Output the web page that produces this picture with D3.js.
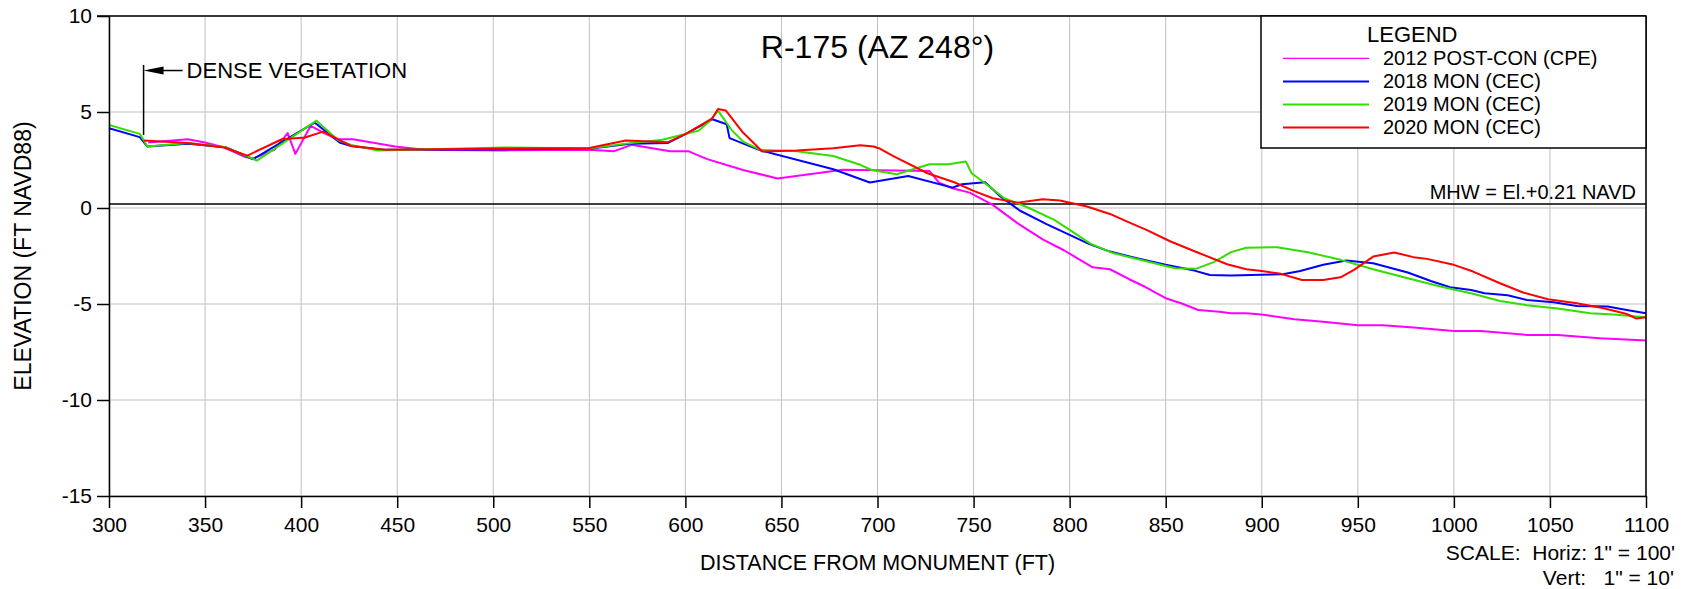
<!DOCTYPE html>
<html lang="en-US">
<head>
    <title>R-175 Profile</title>
    <meta charset="utf-8">
    <style>
        html,
        body {
            margin: 0;
            padding: 0;
            background: #fff;
        }
        /* everything in the drawing uses the same sans face */

        svg text {
            font-family: "Liberation Sans", Arial, sans-serif;
            fill: #000;
        }

        .grid line {
            stroke: #c0c0c0;
            stroke-width: 1px;
        }

        .axis path,
        .axis line {
            stroke: #000;
            stroke-width: 1.5px;
        }

        .axis text {
            font-size: 21px;
        }

        .profile {
            fill: none;
            stroke-width: 2px;
            stroke-linejoin: round;
        }
    </style>
    <script src="https://d3js.org/d3.v7.min.js"></script>
</head>

<body>
    <div id="chart"></div>

    <script>
        // survey profiles, [distance from monument (ft), elevation (ft NAVD88)]
        var post2012 = [
            [320.4, 3.41], [341, 3.58], [350, 3.41], [360, 3.15], [371, 2.65], [375, 2.58], [386, 3.03],
            [393, 3.9], [397, 2.82], [405, 4.28], [412, 3.9], [419, 3.58], [427, 3.58], [449, 3.2],
            [464, 3.03], [506, 3.0], [550, 3.04], [563, 2.96], [572, 3.29], [592, 2.96], [601.5, 2.96],
            [611, 2.56], [630, 1.98], [648, 1.54], [682, 1.99], [691, 1.98], [727, 1.93], [732, 1.32],
            [739, 1.03], [748, 0.8], [760, 0.16], [773, -0.8], [786, -1.63], [797, -2.2], [812, -3.09],
            [821, -3.19], [831, -3.71], [839, -4.09], [850, -4.7], [858, -4.96], [867, -5.31], [878, -5.4],
            [884, -5.48], [892, -5.48], [900, -5.55], [917, -5.79], [932, -5.92], [950, -6.11], [963, -6.11],
            [979, -6.23], [1000, -6.4], [1014, -6.4], [1038, -6.61], [1054, -6.61], [1076, -6.78], [1100, -6.9]
        ];

        var mon2018 = [
            [300, 4.16], [316, 3.69], [320, 3.2], [341, 3.35], [361, 3.16], [375, 2.54], [407, 4.45],
            [420, 3.41], [426, 3.23], [442, 3.03], [500, 3.05], [550, 3.08], [571, 3.34], [591, 3.39],
            [601, 3.9], [614, 4.62], [621.5, 4.36], [623, 3.64], [639, 3.0], [677, 2.02], [696, 1.33],
            [716, 1.67], [739, 1.06], [744, 1.24], [756, 1.34], [764, 0.6], [774, -0.13], [788, -0.84],
            [810, -1.87], [821, -2.27], [835, -2.62], [850, -2.96], [865, -3.26], [873, -3.49], [884, -3.52],
            [900, -3.48], [911, -3.45], [920, -3.28], [932, -2.96], [944, -2.74], [958, -2.88], [976, -3.36],
            [988, -3.8], [998, -4.13], [1009, -4.27], [1016, -4.44], [1028, -4.54], [1038, -4.79],
            [1052, -4.91], [1064, -5.1], [1080, -5.13], [1090, -5.31], [1100, -5.48]
        ];

        var mon2019 = [
            [300, 4.33], [316, 3.86], [320, 3.2], [341, 3.38], [361, 3.16], [377, 2.47], [408, 4.55],
            [419, 3.55], [426, 3.28], [440, 2.99], [506, 3.15], [550, 3.1], [568, 3.34], [588, 3.55],
            [607, 4.03], [613, 4.56], [617, 5.07], [624, 4.07], [630, 3.46], [639, 3.03], [657, 2.97],
            [677, 2.71], [691, 2.25], [697, 1.98], [710, 1.76], [727, 2.28], [737, 2.28], [746, 2.42],
            [749, 1.81], [756, 1.29], [766, 0.51], [778, 0.04], [792, -0.62], [800, -1.14], [811, -1.87],
            [823, -2.36], [850, -3.02], [855, -3.14], [866, -3.16], [875, -2.82], [884, -2.3], [892, -2.07],
            [908, -2.04], [924, -2.3], [941, -2.7], [958, -3.19], [976, -3.66], [993, -4.09], [1010, -4.47],
            [1024, -4.84], [1038, -5.06], [1054, -5.24], [1071, -5.48], [1083, -5.55], [1100, -5.69]
        ];

        var mon2020 = [
            [318, 3.51], [341, 3.38], [360, 3.15], [372, 2.73], [390, 3.58], [402, 3.67], [411.5, 3.98],
            [426, 3.23], [444, 3.03], [471, 3.06], [506, 3.1], [550, 3.13], [569, 3.52], [591, 3.43],
            [601, 3.9], [614, 4.67], [617, 5.16], [621, 5.08], [630, 3.93], [640, 2.94], [658, 2.99],
            [677, 3.11], [691, 3.27], [698, 3.2], [701, 3.1], [708, 2.71], [726, 1.81], [740, 1.34],
            [750, 0.89], [760, 0.51], [773, 0.28], [786, 0.46], [795, 0.39], [809, 0.08], [821, -0.31],
            [830, -0.71], [840, -1.14], [852, -1.72], [865, -2.25], [882, -2.93], [892, -3.19], [899, -3.27],
            [910, -3.43], [921, -3.75], [932, -3.75], [941, -3.61], [948, -3.22], [958, -2.53], [969, -2.32],
            [979, -2.56], [986, -2.65], [1000, -2.96], [1010, -3.31], [1024, -3.92], [1036, -4.4],
            [1049, -4.75], [1064, -4.96], [1078, -5.22], [1090, -5.52], [1095, -5.76], [1100, -5.69]
        ];

        var seriesNames = ["2012 POST-CON (CPE)", "2018 MON (CEC)", "2019 MON (CEC)", "2020 MON (CEC)"];
        var seriesColors = ["#ff00ff", "#0000ff", "#33dd00", "#ff0000"];
        var seriesData = [post2012, mon2018, mon2019, mon2020];

        var xTicks = [300, 350, 400, 450, 500, 550, 600, 650, 700, 750, 800, 850, 900, 950, 1000, 1050, 1100];
        var yTicks = [10, 5, 0, -5, -10, -15];

        var mhw = 0.21;
        // dense vegetation marker: station and the elevations of its leader
        var vegStation = 318;
        var vegLeader = [7.45, 3.8];
        var vegArrowAt = 7.16;

        var width = 1687,
            height = 589;
        var margin = { top: 16, right: 41, bottom: 93, left: 109 };
        var plotW = width - margin.left - margin.right,
            plotH = height - margin.top - margin.bottom;

        var svg = d3.select("#chart").append("svg")
            .attr("width", width)
            .attr("height", height)
            .style("display", "block");

        var g = svg.append("g")
            .attr("transform", "translate(" + margin.left + "," + margin.top + ")");

        var x = d3.scaleLinear().domain([300, 1100]).range([0, plotW]);
        var y = d3.scaleLinear().domain([-15, 10]).range([plotH, 0]);

        //light grid first so everything sits on top of it
        var grid = g.append("g").attr("class", "grid");
        grid.selectAll("line.v")
            .data(xTicks)
            .enter().append("line")
            .attr("class", "v")
            .attr("x1", function(d) { return x(d); })
            .attr("x2", function(d) { return x(d); })
            .attr("y1", 0)
            .attr("y2", plotH);
        grid.selectAll("line.h")
            .data(yTicks)
            .enter().append("line")
            .attr("class", "h")
            .attr("x1", 0)
            .attr("x2", plotW)
            .attr("y1", function(d) { return y(d); })
            .attr("y2", function(d) { return y(d); });

        // mean high water
        g.append("line")
            .attr("x1", 0)
            .attr("x2", plotW)
            .attr("y1", y(mhw))
            .attr("y2", y(mhw))
            .attr("stroke", "#000")
            .attr("stroke-width", 1.5);

        g.append("text")
            .attr("x", plotW - 10)
            .attr("y", y(mhw) - 5)
            .attr("text-anchor", "end")
            .style("font-size", "20px")
            .text("MHW = El.+0.21 NAVD");

        g.append("clipPath")
            .attr("id", "plotclip")
            .append("rect")
            .attr("width", plotW)
            .attr("height", plotH);

        var line = d3.line()
            .x(function(d) { return x(d[0]); })
            .y(function(d) { return y(d[1]); });

        g.append("g")
            .attr("clip-path", "url(#plotclip)")
            .selectAll("path")
            .data(seriesData)
            .enter().append("path")
            .attr("class", "profile")
            .attr("stroke", function(d, i) { return seriesColors[i]; })
            .attr("d", line);

        // frame: top and right edges
        g.append("line")
            .attr("x1", -12).attr("x2", plotW)
            .attr("y1", 0).attr("y2", 0)
            .attr("stroke", "#000").attr("stroke-width", 1.5);
        g.append("line")
            .attr("x1", plotW).attr("x2", plotW)
            .attr("y1", 0).attr("y2", plotH)
            .attr("stroke", "#000").attr("stroke-width", 1.5);

        // plain hyphen for negatives, like the drafting software prints them
        function plainNum(d) {
            return String(d);
        }

        var xAxis = d3.axisBottom(x)
            .tickValues(xTicks)
            .tickSize(12)
            .tickPadding(9)
            .tickSizeOuter(0)
            .tickFormat(plainNum);
        g.append("g")
            .attr("class", "axis")
            .attr("transform", "translate(0," + plotH + ")")
            .call(xAxis);

        var yAxis = d3.axisLeft(y)
            .tickValues(yTicks)
            .tickSize(12)
            .tickPadding(5)
            .tickSizeOuter(0)
            .tickFormat(plainNum);
        g.append("g")
            .attr("class", "axis")
            .call(yAxis);

        g.selectAll(".axis text").attr("fill", "#000");

        //title and axis titles
        g.append("text")
            .attr("x", plotW / 2)
            .attr("y", 42)
            .attr("text-anchor", "middle")
            .style("font-size", "32px")
            .text("R-175 (AZ 248\u00b0)");

        svg.append("text")
            .attr("transform", "translate(31," + (margin.top + plotH / 2) + ") rotate(-90)")
            .attr("text-anchor", "middle")
            .style("font-size", "23px")
            .text("ELEVATION (FT NAVD88)");

        svg.append("text")
            .attr("x", margin.left + plotW / 2)
            .attr("y", 570)
            .attr("text-anchor", "middle")
            .style("font-size", "21.5px")
            .text("DISTANCE FROM MONUMENT (FT)");

        svg.append("text")
            .attr("x", 1675)
            .attr("y", 560)
            .attr("text-anchor", "end")
            .style("font-size", "21px")
            .style("white-space", "pre")
            .text("SCALE:  Horiz: 1\" = 100'");
        svg.append("text")
            .attr("x", 1674)
            .attr("y", 585)
            .attr("text-anchor", "end")
            .style("font-size", "21px")
            .style("white-space", "pre")
            .text("Vert:   1\" = 10'");

        // dense vegetation leader with arrow
        var vx = x(vegStation);
        g.append("line")
            .attr("x1", vx).attr("x2", vx)
            .attr("y1", y(vegLeader[0])).attr("y2", y(vegLeader[1]))
            .attr("stroke", "#000").attr("stroke-width", 1.5);
        g.append("line")
            .attr("x1", vx + 18).attr("x2", vx + 39)
            .attr("y1", y(vegArrowAt)).attr("y2", y(vegArrowAt))
            .attr("stroke", "#000").attr("stroke-width", 1.5);
        g.append("path")
            .attr("d", "M" + vx + "," + y(vegArrowAt) + "l20,-4l0,8z")
            .attr("fill", "#000");
        g.append("text")
            .attr("x", vx + 43)
            .attr("y", y(vegArrowAt) + 7.5)
            .style("font-size", "22px")
            .text("DENSE VEGETATION");

        //legend box in the upper right corner
        var legend = g.append("g")
            .attr("transform", "translate(" + (plotW - 385) + ",0)");
        legend.append("rect")
            .attr("width", 385)
            .attr("height", 132)
            .attr("fill", "#fff")
            .attr("stroke", "#000")
            .attr("stroke-width", 1.5);
        legend.append("text")
            .attr("x", 106)
            .attr("y", 26)
            .style("font-size", "22px")
            .text("LEGEND");

        var items = legend.selectAll("g.item")
            .data(seriesNames)
            .enter().append("g")
            .attr("class", "item")
            .attr("transform", function(d, i) {
                return "translate(0," + (42.3 + i * 23.1) + ")";
            });
        items.append("line")
            .attr("x1", 22)
            .attr("x2", 108)
            .attr("stroke", function(d, i) { return seriesColors[i]; })
            .attr("stroke-width", function(d, i) { return i == 0 ? 1.2 : 2; });
        items.append("text")
            .attr("x", 122)
            .attr("y", 6.5)
            .style("font-size", "20px")
            .text(function(d) { return d; });
    </script>
</body>

</html>
